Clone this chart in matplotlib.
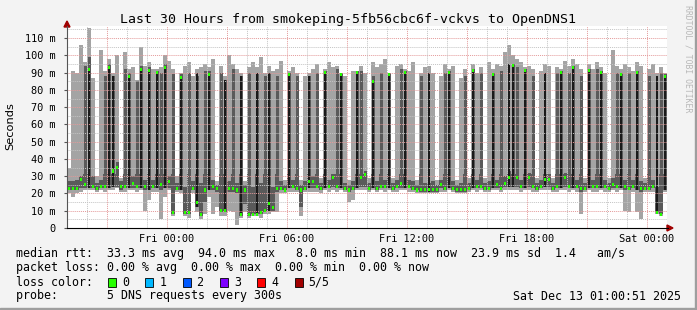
import numpy as np
import matplotlib.pyplot as plt
from matplotlib.patches import Rectangle, Polygon

W, H = 697, 310

# one column per 12 min, hours relative to Fri 00:00
t_start = -5.0
step = 0.2

# smoke per column (ms): fastest ping, 2nd, median, 4th, slowest; blk = top of the black core (0 = none)
low = [20, 18, 20, 21, 22, 22, 22, 21, 22, 21,
       22, 22, 23, 21, 21, 22, 22, 21, 22, 10,
       16, 21, 21, 5, 18, 22, 7, 21, 20, 7,
       6, 20, 9, 5, 8, 18, 8, 12, 7, 7,
       10, 9, 2, 6, 9, 6, 7, 7, 6, 8,
       8, 9, 9, 20, 20, 21, 21, 21, 7, 21,
       21, 21, 21, 20, 22, 21, 22, 21, 22, 21,
       15, 16, 22, 22, 22, 21, 22, 21, 22, 21,
       22, 21, 21, 22, 22, 21, 21, 20, 20, 20,
       20, 20, 20, 21, 21, 22, 21, 20, 20, 20,
       21, 22, 21, 22, 21, 21, 22, 22, 21, 22,
       22, 22, 22, 21, 22, 22, 21, 21, 22, 22,
       22, 21, 21, 22, 22, 21, 22, 21, 8, 21,
       22, 21, 21, 22, 21, 21, 22, 21, 22, 10,
       9, 21, 9, 5, 21, 21, 21, 8, 7, 21]
dlo = [22, 22, 22, 23, 23, 23, 23, 22, 23, 23,
       23, 24, 24, 22, 23, 23, 23, 23, 23, 22,
       22, 23, 23, 22, 23, 23, 8, 22, 22, 8,
       8, 22, 12, 7, 15, 22, 22, 21, 9, 9,
       21, 21, 20, 7, 14, 7, 8, 8, 8, 9,
       10, 10, 21, 22, 22, 23, 23, 22, 12, 22,
       23, 23, 23, 22, 23, 23, 24, 23, 23, 22,
       21, 22, 23, 24, 24, 22, 23, 22, 23, 23,
       23, 22, 23, 23, 23, 23, 22, 22, 21, 21,
       21, 21, 21, 23, 22, 23, 22, 21, 21, 21,
       22, 23, 23, 23, 22, 22, 23, 23, 23, 24,
       24, 24, 24, 23, 23, 24, 23, 22, 23, 24,
       24, 22, 23, 23, 24, 23, 23, 23, 21, 22,
       23, 23, 23, 23, 23, 22, 23, 23, 23, 22,
       22, 23, 22, 21, 22, 22, 23, 9, 8, 22]
med = [23, 23, 23, 28, 25, 92, 24, 23, 24, 24,
       93, 33, 35, 24, 24, 88, 26, 24, 92, 24,
       91, 24, 90, 25, 93, 27, 9, 23, 87, 9,
       9, 23, 15, 8, 22, 89, 24, 23, 10, 10,
       23, 23, 22, 8, 22, 8, 8, 8, 9, 10,
       14, 12, 23, 23, 22, 89, 24, 23, 22, 23,
       27, 27, 24, 23, 90, 24, 29, 24, 89, 23,
       22, 23, 90, 29, 31, 23, 85, 23, 24, 24,
       89, 23, 24, 26, 90, 24, 23, 22, 22.5, 22.5,
       22.5, 22.5, 22.5, 25, 23, 90, 23, 22.5, 22.5, 22.5,
       23, 91, 24, 24, 23, 23, 89, 25, 23, 26,
       29, 94, 29, 24, 91, 29.5, 24, 23, 24, 28,
       28, 23, 24, 90, 29.5, 24, 93, 24, 23, 23,
       91, 24, 24, 90, 24, 23, 25, 24, 89, 24,
       23, 24, 90, 23, 23, 23, 24, 9, 8, 88]
dhi = [27, 27, 28, 30, 94, 99, 30, 26, 28, 88,
       95, 88, 38, 27, 92, 90, 30, 85, 94, 28,
       93, 28, 91, 90, 95, 30, 89, 26, 89, 24,
       90, 27, 88, 26, 91, 91, 28, 25, 90, 86,
       27, 92, 26, 88, 25, 90, 24, 90, 26, 88,
       90, 24, 88, 27, 25, 90, 28, 88, 25, 27,
       88, 30, 90, 26, 91, 28, 31, 92, 90, 26,
       25, 27, 91, 91, 33, 26, 88, 27, 90, 28,
       90, 26, 28, 92, 91, 28, 27, 25, 88, 26,
       26, 27, 25, 28, 90, 91, 27, 25, 26, 88,
       26, 92, 28, 90, 26, 27, 90, 28, 91, 30,
       33, 95, 93, 28, 92, 32, 88, 26, 28, 31,
       31, 26, 90, 91, 32, 90, 94, 28, 88, 26,
       92, 28, 92, 91, 28, 26, 29, 90, 90, 28,
       90, 28, 91, 27, 26, 88, 28, 24, 90, 89]
high = [35, 91, 90, 106, 96, 116, 87, 30, 103, 91,
        98, 90, 100, 29, 102, 92, 93, 86, 105, 94,
        96, 92, 92, 93, 100, 97, 92, 30, 90, 94,
        96, 88, 92, 93, 95, 93, 98, 27, 94, 88,
        100, 95, 92, 90, 27, 93, 96, 93, 99, 90,
        94, 91, 92, 97, 28, 91, 93, 90, 28, 88,
        90, 92, 95, 29, 92, 96, 93, 94, 90, 88,
        28, 91, 91, 94, 90, 29, 96, 93, 95, 98,
        90, 29, 94, 95, 92, 91, 96, 28, 90, 93,
        94, 90, 28, 88, 95, 92, 94, 28, 87, 92,
        29, 95, 90, 93, 29, 96, 92, 95, 94, 102,
        106, 100, 98, 96, 93, 94, 92, 29, 91, 95,
        94, 29, 93, 92, 97, 94, 98, 95, 92, 29,
        95, 92, 96, 93, 90, 29, 103, 94, 92, 95,
        93, 91, 96, 94, 29, 92, 95, 90, 93, 90]
blk = [0, 0, 0, 0, 0, 92, 0, 0, 0, 0,
       93, 88, 0, 0, 0, 88, 0, 0, 92, 0,
       91, 0, 90, 0, 93, 0, 0, 0, 87, 0,
       0, 0, 90, 0, 0, 89, 0, 0, 0, 86,
       0, 0, 0, 88, 0, 0, 0, 90, 0, 0,
       90, 0, 0, 0, 0, 89, 0, 0, 0, 0,
       88, 0, 0, 0, 90, 0, 0, 0, 89, 0,
       0, 0, 90, 0, 0, 0, 85, 0, 0, 0,
       89, 0, 0, 0, 90, 0, 0, 0, 0, 0,
       90, 0, 0, 0, 0, 90, 0, 0, 0, 0,
       0, 91, 0, 0, 0, 0, 89, 0, 0, 0,
       95, 94, 0, 0, 91, 0, 0, 0, 0, 90,
       0, 0, 0, 90, 0, 0, 93, 0, 0, 0,
       91, 0, 0, 90, 0, 0, 0, 0, 89, 0,
       0, 0, 90, 0, 0, 0, 0, 88, 0, 88]

y_ticks = [0, 10, 20, 30, 40, 50, 60, 70, 80, 90, 100, 110]
y_labels = ['0'] + ['%d m' % v for v in y_ticks[1:]]
x_ticks = [0, 6, 12, 18, 24]
x_labels = ['Fri 00:00', 'Fri 06:00', 'Fri 12:00', 'Fri 18:00', 'Sat 00:00']

loss_names = ['0', '1', '2', '3', '4', '5/5']
loss_colors = ['#26ff00', '#00b8ff', '#0059ff', '#7e00ff', '#ff0000', '#a10000']


def fx(x):
    return x / W


def fy(y):
    return 1 - y / H


fig = plt.figure(figsize=(W / 100, H / 100), dpi=100, facecolor='#f3f3f3')
ax = fig.add_axes([fx(67), fy(228), 600 / W, 202 / H])
ax.set_facecolor('white')
ax.set_xlim(-5, 25)
ax.set_ylim(0, 117)
for s in ax.spines.values():
    s.set_visible(False)

low = np.array(low, float)
dlo = np.array(dlo, float)
med = np.array(med, float)
dhi = np.array(dhi, float)
high = np.array(high, float)
blk = np.array(blk, float)
t = t_start + step * np.arange(len(low))
cut = 31.0  # the band near the floor is drawn full width, the spikes above it thinner


def smoke(lo, hi, frac, color, z):
    base_top = np.minimum(hi, cut)
    ax.bar(t, base_top - lo, bottom=lo, width=step, align='edge', color=color, lw=0, zorder=z)
    tall = hi > cut
    off = step * (1 - frac) / 2
    ax.bar(t[tall] + off, (hi - cut)[tall], bottom=cut, width=step * frac, align='edge',
           color=color, lw=0, zorder=z)


smoke(low, high, 0.9, '#a4a4a4', 2)
smoke(dlo, dhi, 0.75, '#5a5a5a', 3)
m = blk > 0
ax.bar(t[m] + step * 0.25, (blk - dlo)[m], bottom=dlo[m], width=step * 0.5, align='edge',
       color='#1a1a1a', lw=0, zorder=4)

# grid goes over the smoke
dots = (0, (1, 1))
for v in np.arange(5, 117, 10):
    ax.axhline(v, color='#c4c4c4', lw=0.7, ls=dots, zorder=5)
for v in np.arange(10, 117, 10):
    ax.axhline(v, color='#e49a9a', lw=0.7, ls=dots, zorder=5)
for h in range(-4, 25):
    c = '#e49a9a' if h % 3 == 0 else '#c4c4c4'
    ax.axvline(h, color=c, lw=0.7, ls=dots, zorder=5)

# median marks
ax.bar(t + step * 0.15, 1.8, bottom=med - 0.9, width=step * 0.7, align='edge',
       color='#26ff00', lw=0, zorder=6)

ax.set_yticks(y_ticks)
ax.set_yticklabels(y_labels, family='DejaVu Sans Mono', fontsize=7.4)
ax.set_xticks(x_ticks)
ax.set_xticklabels(x_labels, family='DejaVu Sans Mono', fontsize=7.4)
ax.tick_params(axis='y', length=2, pad=6, color='#555555')
ax.tick_params(axis='x', length=0, pad=4)

# axes with arrows
fig.add_artist(plt.Line2D([fx(67), fx(67)], [fy(228), fy(26)], color='#555555', lw=0.8))
fig.add_artist(plt.Line2D([fx(67), fx(668)], [fy(228), fy(228)], color='black', lw=0.8))
fig.add_artist(Polygon([[fx(64), fy(27)], [fx(70), fy(27)], [fx(67), fy(21)]], closed=True,
                       color='#a00000', transform=fig.transFigure))
fig.add_artist(Polygon([[fx(667), fy(225)], [fx(667), fy(231)], [fx(673), fy(228)]], closed=True,
                       color='#a00000', transform=fig.transFigure))

fig.text(fx(348), fy(19), 'Last 30 Hours from smokeping-5fb56cbc6f-vckvs to OpenDNS1',
         family='DejaVu Sans Mono', fontsize=9.5, ha='center', va='center')
fig.text(fx(10), fy(126), 'Seconds', fontsize=8.2, rotation=90, ha='center', va='center')
fig.text(fx(688), fy(5), 'RRDTOOL / TOBI OETIKER', family='DejaVu Sans Mono', fontsize=5.9,
         rotation=270, ha='center', va='top', color='#b8b8b8')

mono = dict(family='DejaVu Sans Mono', fontsize=8.4, va='center')
fig.text(fx(16), fy(254), 'median rtt:  33.3 ms avg  94.0 ms max   8.0 ms min  88.1 ms now  23.9 ms sd  1.4   am/s', **mono)
fig.text(fx(16), fy(268), 'packet loss: 0.00 % avg  0.00 % max  0.00 % min  0.00 % now', **mono)
fig.text(fx(16), fy(282), 'loss color:', **mono)
for i, (name, col) in enumerate(zip(loss_names, loss_colors)):
    x0 = 108 + 37.3 * i
    fig.add_artist(Rectangle((fx(x0), fy(287)), 8 / W, 9 / H, facecolor=col, edgecolor='black',
                             lw=0.6, transform=fig.transFigure))
    fig.text(fx(x0 + 14), fy(282), name, **mono)
fig.text(fx(16), fy(296), 'probe:       5 DNS requests every 300s', **mono)
fig.text(fx(681), fy(296), 'Sat Dec 13 01:00:51 2025', ha='right', **mono)

# frame
fig.add_artist(Rectangle((0, 0), 1, 2 / H, color='#9e9e9e', transform=fig.transFigure))
fig.add_artist(Rectangle((1 - 2 / W, 0), 2 / W, 1, color='#9e9e9e', transform=fig.transFigure))

fig.savefig('out.png', dpi=100, facecolor=fig.get_facecolor())
